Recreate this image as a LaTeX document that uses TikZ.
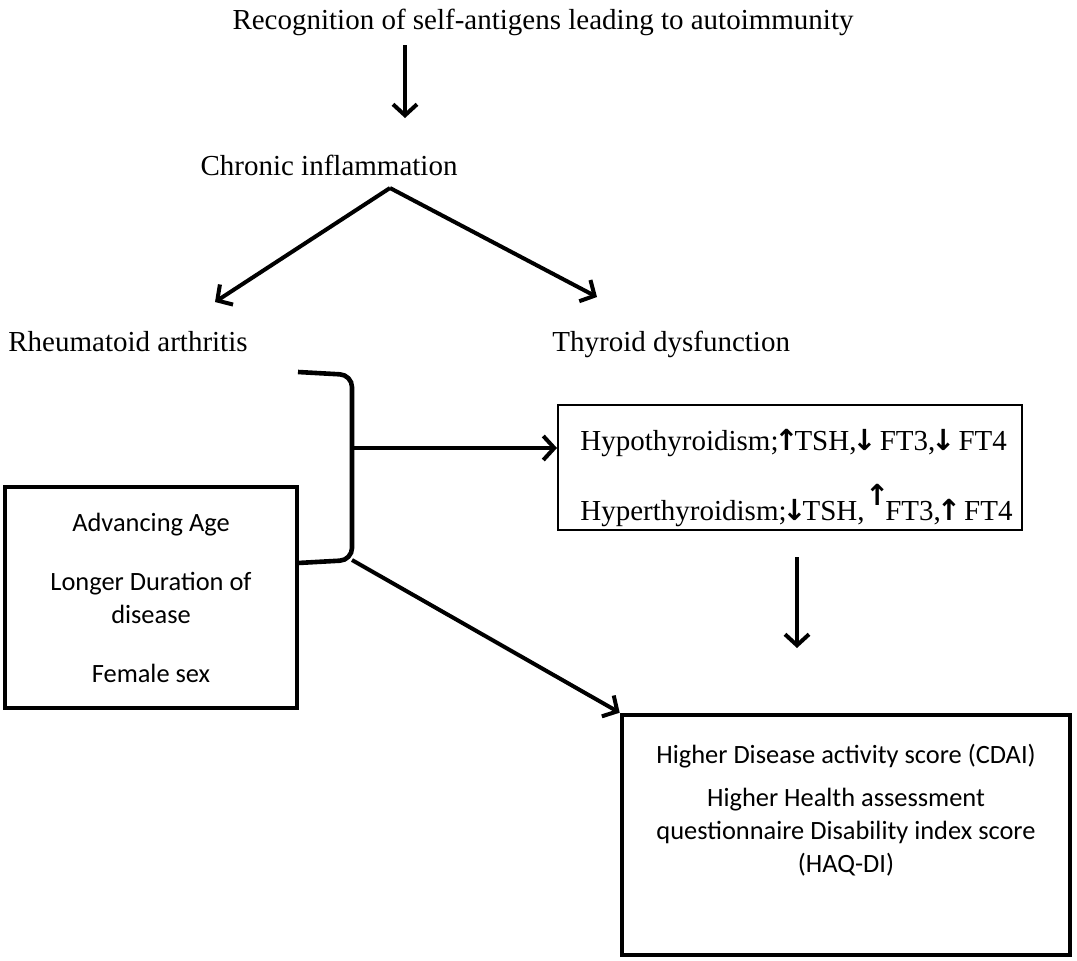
\documentclass[tikz,border=0pt]{standalone}
\usepackage{fontspec}
\setmainfont{Liberation Serif}
\newfontfamily\calfont{Carlito}
\newfontfamily\arrfont{DejaVu Sans}
\usepackage{tikz}
\usetikzlibrary{arrows.meta, positioning, calc}
\newcommand{\up}{\makebox[0.55em]{\arrfont\bfseries ↑}}
\newcommand{\dn}{\makebox[0.55em]{\arrfont\bfseries ↓}}

\begin{document}
\begin{tikzpicture}[x=0.5pt, y=-0.5pt, every node/.style={font=\fontsize{14.5}{17}\selectfont, inner sep=0pt}]
  \tikzstyle{label}=[anchor=center]
  \tikzstyle{thinbox}=[rectangle, draw=black, line width=1pt, minimum width=232pt, minimum height=62.5pt]
  \tikzstyle{thickbox}=[rectangle, draw=black, line width=2.3pt, align=center, font=\calfont\fontsize{13.2}{16.5}\selectfont]
  \tikzstyle{boxtext}=[align=center, font=\calfont\fontsize{13.2}{16.5}\selectfont]
  \tikzstyle{arrow}=[-{Straight Barb[length=5.5pt, width=12pt]}, line width=2pt]
  \tikzstyle{bracket}=[line width=2.3pt, rounded corners=6pt]

  \useasboundingbox (0,0) rectangle (1077,960);

  \node[label] (title) at (543,22) {Recognition of self-antigens leading to autoimmunity};
  \node[label] (chronic) at (329,165) {Chronic inflammation};
  \node[label, anchor=base west] (ra) at (8,351) {Rheumatoid arthritis};
  \node[label, anchor=base west] (thyroid) at (552,351) {Thyroid dysfunction};

  \node[thinbox] (thybox) at (790,467.5) {};
  \node[label, anchor=west, align=left] (levels) at (580,478) {Hypothyroidism;\up TSH,\dn\ FT3,\dn\ FT4\\[13pt]Hyperthyroidism;\dn TSH,\,\raisebox{1.1ex}{\up}FT3,\up\ FT4};

  \node[thickbox, minimum width=146pt, minimum height=110.5pt] (factors) at (151,597.5) {Advancing Age\\[13pt]Longer Duration of\\disease\\[13pt]Female sex};

  \node[thickbox, minimum width=224pt, minimum height=120pt] (outcome) at (846,835) {};
  \node[boxtext] (outtext) at (846,810) {Higher Disease activity score (CDAI)\\[5pt]Higher Health assessment\\questionnaire Disability index score\\(HAQ-DI)};

  % connectors
  \coordinate (a1s) at (405,45);
  \coordinate (a1e) at (405,118);
  \coordinate (split) at (390,188);
  \coordinate (toRA) at (215,302);
  \coordinate (toTD) at (597,297);
  \coordinate (a4s) at (797,557);
  \coordinate (a4e) at (797,648);

  \coordinate (brtop) at (298,372);
  \coordinate (brcorner) at (352,375);
  \coordinate (brmid) at (352,448);
  \coordinate (brbot) at (352,560);
  \coordinate (brend) at (298,563);

  \draw[arrow] (a1s) -- (a1e);
  \draw[arrow] (split) -- (toRA);
  \draw[arrow] (split) -- (toTD);
  \draw[bracket] (brtop) -- (brcorner) -- (brbot) -- (brend);
  \draw[arrow] (brmid) -- (brmid -| thybox.west);
  \draw[arrow] (brbot) -- (outcome.north west);
  \draw[arrow] (a4s) -- (a4e);
\end{tikzpicture}
\end{document}
